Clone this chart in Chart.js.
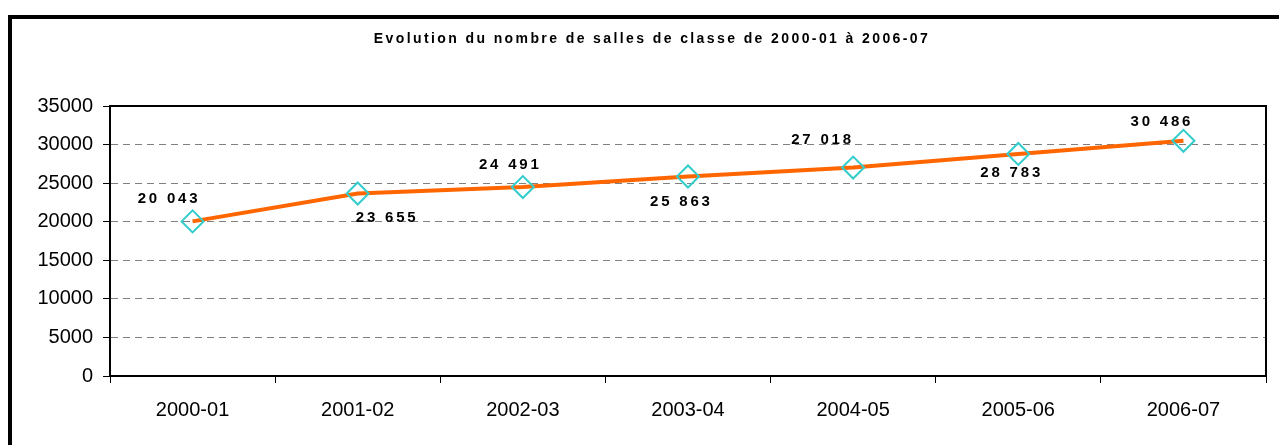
<!DOCTYPE html>
<html>
<head>
<meta charset="utf-8">
<script src="https://cdn.jsdelivr.net/npm/chart.js@4"></script>
<style>
  html, body { margin: 0; padding: 0; background: #fff; }
  #wrap { position: relative; width: 1279px; height: 445px; overflow: hidden; }
</style>
</head>
<body>
<div id="wrap"><canvas id="chart" width="1279" height="445"></canvas></div>
<script>
const titleText = "Evolution du nombre de salles de classe de 2000-01 à 2006-07";
const years = ["2000-01", "2001-02", "2002-03", "2003-04", "2004-05", "2005-06", "2006-07"];
const classrooms = [20043, 23655, 24491, 25863, 27018, 28783, 30486];
const yTicks = [0, 5000, 10000, 15000, 20000, 25000, 30000, 35000];

// where each value label sits relative to its point
const labelOffsets = [[-25, -23], [28, 24], [-14, -22], [-8, 25], [-32, -28], [-8, 19], [-23, -19]];

const fmt = v => String(v).replace(/\B(?=(\d{3})+(?!\d))/g, " ");

const framePlugin = {
  id: "frame",
  beforeDraw(chart) {
    const ctx = chart.ctx;
    ctx.save();
    ctx.strokeStyle = "#000";
    ctx.lineWidth = 4;
    ctx.strokeRect(10, 17, 2000, 1000);
    // title
    ctx.fillStyle = "#000";
    ctx.font = "bold 14px 'Liberation Sans', Arial, sans-serif";
    ctx.letterSpacing = "2.4px";
    ctx.textAlign = "center";
    ctx.textBaseline = "middle";
    ctx.fillText(titleText, 652, 39);
    ctx.restore();
  },
  afterDraw(chart) {
    const a = chart.chartArea;
    const ctx = chart.ctx;
    ctx.save();
    ctx.strokeStyle = "#000";
    ctx.lineWidth = 2;
    ctx.beginPath();
    ctx.moveTo(a.left, a.top);
    ctx.lineTo(a.right, a.top);
    ctx.lineTo(a.right, a.bottom);
    ctx.stroke();
    ctx.restore();
  }
};

const valueLabels = {
  id: "valueLabels",
  afterDatasetsDraw(chart) {
    const ctx = chart.ctx;
    const meta = chart.getDatasetMeta(0);
    ctx.save();
    ctx.fillStyle = "#000";
    ctx.font = "bold 15px 'Liberation Sans', Arial, sans-serif";
    ctx.letterSpacing = "2.8px";
    ctx.textAlign = "center";
    ctx.textBaseline = "middle";
    meta.data.forEach((pt, i) => {
      const off = labelOffsets[i];
      ctx.fillText(fmt(classrooms[i]), pt.x + off[0] + 1.4, pt.y + off[1]);
    });
    ctx.restore();
  }
};

new Chart(document.getElementById("chart"), {
  type: "line",
  data: {
    labels: years,
    datasets: [{
      data: classrooms,
      borderColor: "#FF6600",
      borderWidth: 4,
      tension: 0,
      pointStyle: "rectRot",
      pointRadius: 11,
      pointHoverRadius: 11,
      pointBorderColor: "#33CCCC",
      pointBorderWidth: 2,
      pointBackgroundColor: "rgba(0,0,0,0)"
    }]
  },
  options: {
    responsive: false,
    animation: false,
    events: [],
    layout: { padding: { left: 0, right: 8, top: 106, bottom: 0 } },
    plugins: {
      legend: { display: false },
      title: { display: false },
      tooltip: { enabled: false }
    },
    scales: {
      x: {
        type: "category",
        offset: true,
        afterFit: s => { s.height = 69; s.paddingLeft = 0; s.paddingRight = 0; },
        grid: {
          offset: true,
          drawOnChartArea: false,
          drawTicks: true,
          tickLength: 7,
          tickColor: "#000",
          tickWidth: 1
        },
        border: { color: "#000", width: 2 },
        ticks: {
          color: "#000",
          padding: 15,
          maxRotation: 0,
          font: { family: "'Liberation Sans', Arial, sans-serif", size: 20 }
        }
      },
      y: {
        min: 0,
        max: 35000,
        afterFit: s => { s.width = 110; s.paddingTop = 0; s.paddingBottom = 0; },
        afterBuildTicks: s => { s.ticks = yTicks.map(v => ({ value: v })); },
        grid: {
          color: "#808080",
          lineWidth: 1,
          drawTicks: true,
          tickLength: 7,
          tickColor: "#000",
          tickWidth: 1,
          tickBorderDash: []
        },
        border: { color: "#000", width: 2, dash: [7, 5] },
        ticks: {
          color: "#000",
          padding: 10,
          callback: v => String(v),
          font: { family: "'Liberation Sans', Arial, sans-serif", size: 20 }
        }
      }
    }
  },
  plugins: [framePlugin, valueLabels]
});
</script>
</body>
</html>
